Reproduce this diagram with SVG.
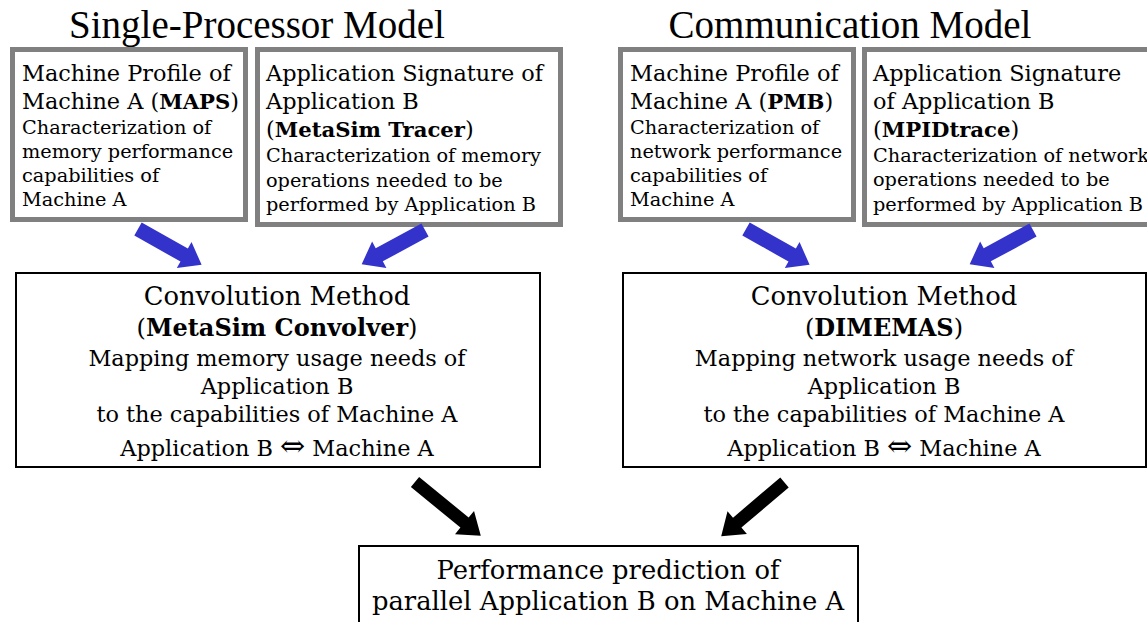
<svg xmlns="http://www.w3.org/2000/svg" width="1147" height="622" viewBox="0 0 1147 622">
  <style>
    .title { font-family: "Liberation Serif", "Times New Roman", serif; font-size: 39px; fill: #000; text-anchor: middle; }
    .src { fill: #fff; stroke: #808080; stroke-width: 5; }
    .box { fill: #fff; stroke: #000; stroke-width: 2; }
    .hd { font-family: "DejaVu Serif", serif; font-size: 22.4px; fill: #000; }
    .hd .b { font-size: 21.2px; }
    .sm { font-family: "DejaVu Serif", serif; font-size: 19.3px; fill: #000; }
    .cv { font-family: "DejaVu Serif", serif; font-size: 22.4px; fill: #000; text-anchor: middle; }
    .cv1 { font-size: 25.8px; }
    .cv2 { font-size: 24px; }
    .iff { font-size: 30px; }
    .out { font-family: "DejaVu Serif", serif; font-size: 25.8px; fill: #000; text-anchor: middle; }
    .b { font-weight: bold; }
    .blue { fill: #3333cc; }
    .black { fill: #000; }
  </style>

  <text class="title" x="257" y="38">Single-Processor Model</text>
  <text class="title" x="850" y="38">Communication Model</text>

  <!-- inputs: single-processor side -->
  <g id="maps">
    <rect class="src" x="12.5" y="49.5" width="233" height="170"/>
    <text class="hd" x="22" y="81">Machine Profile of</text>
    <text class="hd" x="22" y="109">Machine A (<tspan class="b">MAPS</tspan>)</text>
    <text class="sm" x="22" y="134">Characterization of</text>
    <text class="sm" x="22" y="158">memory performance</text>
    <text class="sm" x="22" y="182">capabilities of</text>
    <text class="sm" x="22" y="206">Machine A</text>
  </g>
  <g id="metasim-tracer">
    <rect class="src" x="257.5" y="49.5" width="303" height="175"/>
    <text class="hd" x="266" y="81">Application Signature of</text>
    <text class="hd" x="266" y="109">Application B</text>
    <text class="hd" x="266" y="137">(<tspan class="b">MetaSim Tracer</tspan>)</text>
    <text class="sm" x="266" y="162">Characterization of memory</text>
    <text class="sm" x="266" y="187">operations needed to be</text>
    <text class="sm" x="266" y="211">performed by Application B</text>
  </g>

  <!-- inputs: communication side -->
  <g id="pmb">
    <rect class="src" x="620.5" y="49.5" width="233" height="170"/>
    <text class="hd" x="630" y="81">Machine Profile of</text>
    <text class="hd" x="630" y="109">Machine A (<tspan class="b">PMB</tspan>)</text>
    <text class="sm" x="630" y="134">Characterization of</text>
    <text class="sm" x="630" y="158">network performance</text>
    <text class="sm" x="630" y="182">capabilities of</text>
    <text class="sm" x="630" y="206">Machine A</text>
  </g>
  <g id="mpidtrace">
    <rect class="src" x="864.5" y="49.5" width="303" height="175"/>
    <text class="hd" x="873" y="81">Application Signature</text>
    <text class="hd" x="873" y="109">of Application B</text>
    <text class="hd" x="873" y="137">(<tspan class="b">MPIDtrace</tspan>)</text>
    <text class="sm" x="873" y="162">Characterization of network</text>
    <text class="sm" x="873" y="186">operations needed to be</text>
    <text class="sm" x="873" y="211">performed by Application B</text>
  </g>

  <!-- convolvers -->
  <g id="metasim-convolver">
    <rect class="box" x="16" y="273" width="524" height="194"/>
    <text class="cv cv1" x="277" y="305">Convolution Method</text>
    <text class="cv cv2" x="277" y="336">(<tspan class="b">MetaSim Convolver</tspan>)</text>
    <text class="cv" x="277" y="366">Mapping memory usage needs of</text>
    <text class="cv" x="277" y="394">Application B</text>
    <text class="cv" x="277" y="422">to the capabilities of Machine A</text>
    <text class="cv" x="277" y="456">Application B <tspan class="iff">⇔</tspan> Machine A</text>
  </g>
  <g id="dimemas">
    <rect class="box" x="623" y="273" width="523" height="194"/>
    <text class="cv cv1" x="884" y="305">Convolution Method</text>
    <text class="cv cv2" x="884" y="336">(<tspan class="b">DIMEMAS</tspan>)</text>
    <text class="cv" x="884" y="366">Mapping network usage needs of</text>
    <text class="cv" x="884" y="394">Application B</text>
    <text class="cv" x="884" y="422">to the capabilities of Machine A</text>
    <text class="cv" x="884" y="456">Application B <tspan class="iff">⇔</tspan> Machine A</text>
  </g>

  <!-- result -->
  <g id="prediction">
    <rect class="box" x="359" y="546" width="499" height="90"/>
    <text class="out" x="608" y="579">Performance prediction of</text>
    <text class="out" x="608" y="610">parallel Application B on Machine A</text>
  </g>

  <!-- block arrows: local frame points along +x, tail at 0 -->
  <g id="connectors">
    <path class="blue" transform="translate(138 229) rotate(29.4)" d="M0,-7.5 L53,-7.5 L53,-15 L73,0 L53,15 L53,7.5 L0,7.5 Z"/>
    <path class="blue" transform="translate(425 230) rotate(151.6)" d="M0,-7.5 L52,-7.5 L52,-15 L72,0 L52,15 L52,7.5 L0,7.5 Z"/>
    <path class="blue" transform="translate(746 229) rotate(29.4)" d="M0,-7.5 L53,-7.5 L53,-15 L73,0 L53,15 L53,7.5 L0,7.5 Z"/>
    <path class="blue" transform="translate(1033 230) rotate(151.6)" d="M0,-7.5 L52,-7.5 L52,-15 L72,0 L52,15 L52,7.5 L0,7.5 Z"/>
    <path class="black" transform="translate(415 482) rotate(39.3)" d="M0,-6.5 L64,-6.5 L64,-15 L85,0 L64,15 L64,6.5 L0,6.5 Z"/>
    <path class="black" transform="translate(784.5 482.5) rotate(139.7)" d="M0,-6.5 L62,-6.5 L62,-15 L83,0 L62,15 L62,6.5 L0,6.5 Z"/>
  </g>
</svg>
